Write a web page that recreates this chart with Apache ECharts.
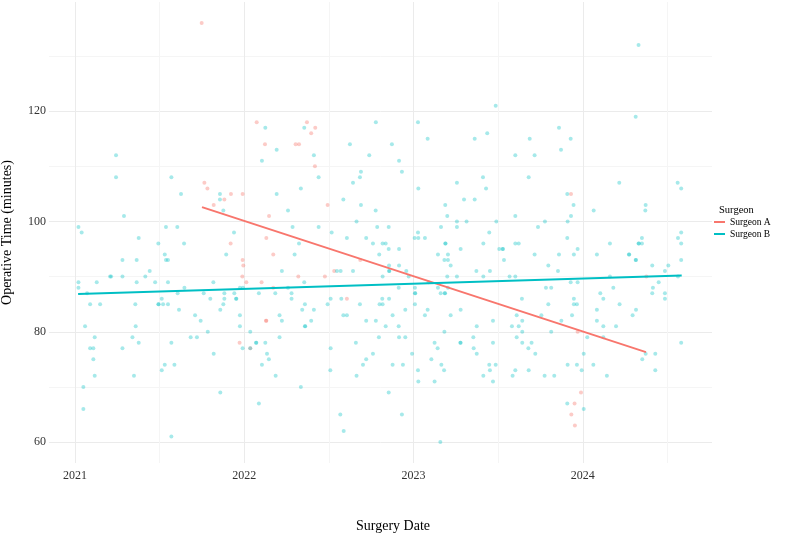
<!DOCTYPE html>
<html>
<head>
<meta charset="utf-8">
<title>Operative time by surgeon</title>
<script src="https://cdn.jsdelivr.net/npm/echarts@6/dist/echarts.min.js"></script>
<style>
  html, body { margin: 0; padding: 0; background: #fff; }
  #chart { width: 785px; height: 534px; }
</style>
</head>
<body>
<div id="chart"></div>
<script>
// surgery date as decimal year, operative time in minutes
const aX = [
  2021.748, 2021.764, 2021.782, 2021.819, 2022.073, 2022.122, 2022.303, 2022.323, 2022.37, 2022.419,
  2022.395, 2022.417, 2021.921, 2021.882, 2021.99, 2022.146, 2022.492, 2022.13, 2021.919, 2022.171,
  2021.99, 2021.994, 2022.685, 2022.531, 2021.988, 2022.319, 2022.476, 2022.012, 2022.102, 2022.171,
  2022.606, 2022.128, 2022.13, 2021.972, 2022.035, 2023.93, 2024.375, 2023.969, 2023.989, 2023.951,
  2023.932, 2023.953
]
const aY = [
  136, 107, 106, 103, 118, 114, 114, 114, 118, 117,
  116, 110, 105, 104, 105, 101, 103, 97, 96, 94,
  93, 92, 93, 91, 90, 90, 90, 89, 89, 88,
  86, 82, 82, 78, 77, 105, 90, 80, 69, 67,
  65, 63
]

const bX = [
  2021.242, 2021.242, 2021.289, 2021.02, 2021.039, 2021.569, 2021.626, 2021.537, 2021.604,
  2022.124, 2022.191, 2022.104, 2022.354, 2022.411, 2022.439, 2021.856, 2021.856, 2021.876, 2022.191,
  2022.334, 2022.258, 2021.939, 2022.285, 2022.439, 2022.516, 2022.585, 2022.624, 2022.738, 2022.777,
  2022.689, 2022.683, 2022.642, 2022.689, 2022.776, 2022.663, 2022.785,
  2022.853, 2022.872, 2022.914, 2022.931, 2023.026, 2023.083, 2023.028, 2023.026, 2023.256, 2023.187,
  2023.199, 2023.256, 2023.256, 2023.162, 2023.298, 2023.313, 2023.361, 2023.361, 2023.41, 2023.428,
  2023.435, 2023.485, 2023.489, 2023.447, 2023.601, 2023.601, 2023.686, 2023.715, 2023.68, 2023.735,
  2023.776,
  2023.859, 2023.928, 2023.871, 2024.329, 2024.312, 2024.215, 2024.56, 2024.581, 2023.908, 2023.945,
  2024.064, 2024.371, 2024.369, 2023.93, 2023.91, 2024.581,
  2021.376, 2021.492, 2021.644, 2021.53, 2021.537, 2021.549, 2021.28, 2021.364, 2021.441, 2021.207,
  2021.213, 2021.28, 2021.415, 2021.02, 2021.02, 2021.128, 2021.364, 2021.473, 2021.549, 2021.646,
  2021.817, 2021.071, 2021.606, 2021.76, 2021.512, 2021.799, 2021.089, 2021.148, 2021.356, 2021.492,
  2021.494, 2021.52, 2021.549, 2021.614, 2021.709, 2021.742, 2021.784, 2021.059, 2021.358, 2021.116,
  2021.339, 2021.683, 2021.72, 2021.089, 2021.108, 2021.28, 2021.376, 2021.569, 2021.108, 2021.819,
  2021.53, 2021.587, 2021.512, 2021.116, 2021.348, 2021.049, 2021.049, 2021.569,
  2022.606, 2022.72, 2022.323, 2022.76, 2022.817, 2021.893, 2022.297, 2022.797, 2022.222, 2022.547,
  2022.569, 2022.642, 2022.817, 2022.354, 2021.974, 2021.992, 2022.258, 2021.882, 2021.941, 2022.086,
  2022.183, 2022.279, 2021.882, 2021.951, 2021.953, 2022.279, 2022.51, 2022.573, 2022.815, 2021.876,
  2022.358, 2022.492, 2022.683, 2022.799, 2022.817, 2021.858, 2022.342, 2022.411, 2021.974, 2022.208,
  2022.585, 2022.606, 2022.222, 2022.395, 2022.72, 2022.777, 2021.974, 2022.358, 2022.36, 2022.035,
  2022.208, 2022.795, 2022.069, 2022.071, 2022.124, 2022.659, 2021.99, 2022.035, 2022.51, 2022.134,
  2022.76, 2022.145, 2022.72, 2022.104, 2022.701, 2022.508, 2022.185, 2022.663, 2022.334, 2021.858,
  2022.086, 2022.567, 2022.587,
  2022.835, 2023.006, 2023.028, 2023.067, 2022.853, 2022.914, 2023.187, 2023.189, 2023.412, 2023.278,
  2023.506, 2023.526, 2023.528, 2023.601, 2023.621, 2023.144, 2023.203, 2023.715, 2023.182, 2023.203,
  2023.534, 2023.219, 2022.855, 2022.914, 2023.796, 2022.855, 2022.857, 2022.957, 2023.371, 2023.451,
  2022.971, 2023.199, 2023.256, 2023.412, 2023.567, 2023.601, 2023.089, 2022.912, 2023.008, 2023.144,
  2023.203, 2023.782, 2023.813, 2023.008, 2023.01, 2023.16, 2023.184, 2023.186, 2022.855, 2023.64,
  2023.008, 2023.796, 2022.951, 2023.083, 2023.278, 2022.876, 2023.067, 2023.219, 2023.609, 2023.755,
  2023.469, 2023.642, 2022.835, 2022.912, 2023.373, 2023.581, 2023.621, 2023.182, 2023.642, 2023.813,
  2022.914, 2022.951, 2023.353, 2023.609, 2023.124, 2023.276, 2023.278, 2023.469, 2023.642, 2023.697,
  2023.142, 2023.355, 2023.678, 2022.991, 2023.373, 2023.719, 2023.105, 2022.876, 2022.937, 2023.164,
  2023.447, 2023.485, 2023.026, 2023.18, 2023.451, 2023.601, 2023.68, 2023.412, 2023.585, 2023.774,
  2023.831, 2023.028, 2023.124, 2023.469, 2022.853, 2022.931, 2023.158,
  2023.908, 2024.349, 2024.562, 2024.16, 2024.329, 2024.331, 2024.349, 2024.581, 2023.969, 2023.859,
  2023.947, 2024.083, 2024.272, 2024.274, 2024.312, 2024.314, 2024.581, 2024.41, 2024.505, 2023.853,
  2024.485, 2024.16, 2024.562, 2023.928, 2023.969, 2024.448, 2024.18, 2024.414, 2024.103, 2024.41,
  2024.485, 2023.947, 2024.121, 2024.485, 2023.947, 2023.965, 2024.217, 2024.083, 2024.314, 2023.936,
  2024.294, 2023.873, 2024.083, 2024.121, 2024.196, 2024.026, 2024.121, 2024.581, 2024.005, 2024.371,
  2024.428, 2024.351, 2023.91, 2023.965, 2024.062, 2023.993, 2024.428, 2024.142, 2023.908, 2024.005
]
const bY = [
  112, 108, 101, 99, 98, 108, 105, 99, 99,
  117, 113, 111, 117, 112, 108, 105, 104, 102, 105,
  106, 102, 98, 99, 99, 98, 104, 114, 112, 118,
  109, 108, 107, 103, 102, 100, 99,
  99, 114, 111, 109, 118, 115, 106, 98, 107, 103,
  101, 100, 99, 99, 104, 100, 115, 104, 108, 106,
  116, 121, 100, 98, 112, 101, 115, 112, 108, 99,
  100,
  117, 115, 113, 132, 119, 107, 107, 106, 105, 103,
  102, 103, 102, 101, 100, 98,
  97, 96, 96, 94, 93, 93, 93, 93, 91, 90,
  90, 90, 90, 89, 88, 89, 89, 89, 89, 88,
  89, 87, 87, 87, 86, 86, 85, 85, 85, 85,
  85, 85, 85, 84, 83, 82, 80, 81, 81, 79,
  79, 79, 79, 77, 77, 77, 78, 78, 75, 76,
  74, 74, 73, 72, 72, 70, 66, 61,
  97, 97, 96, 96, 96, 94, 94, 94, 91, 91,
  91, 91, 90, 89, 88, 88, 88, 87, 87, 87,
  87, 87, 86, 86, 86, 86, 86, 86, 86, 85,
  85, 85, 85, 85, 85, 84, 84, 84, 83, 83,
  83, 83, 82, 82, 82, 82, 81, 81, 81, 80,
  79, 79, 78, 78, 78, 78, 77, 77, 77, 76,
  76, 75, 75, 74, 74, 73, 72, 72, 70, 69,
  67, 65, 62,
  96, 97, 97, 97, 95, 95, 96, 96, 96, 95,
  95, 95, 95, 96, 96, 94, 94, 94, 93, 93,
  93, 92, 92, 92, 92, 91, 91, 91, 91, 91,
  90, 90, 90, 90, 90, 90, 89, 88, 88, 88,
  88, 88, 88, 87, 87, 87, 87, 87, 86, 86,
  85, 85, 84, 84, 84, 83, 83, 83, 83, 83,
  82, 82, 81, 81, 81, 81, 81, 80, 80, 80,
  79, 79, 79, 79, 78, 78, 78, 78, 78, 78,
  77, 77, 77, 76, 76, 76, 75, 74, 74, 74,
  74, 74, 73, 73, 73, 73, 73, 72, 72, 72,
  72, 71, 71, 71, 69, 65, 60,
  97, 97, 97, 96, 96, 96, 96, 96, 95, 94,
  94, 94, 94, 94, 93, 93, 93, 92, 92, 91,
  91, 90, 90, 89, 89, 89, 88, 88, 87, 87,
  87, 86, 86, 86, 85, 85, 85, 84, 84, 83,
  83, 82, 82, 81, 81, 79, 79, 78, 76, 76,
  76, 75, 74, 74, 74, 73, 73, 72, 67, 66
]

// fitted linear trend ends
const trendAX = [2021.75, 2024.373]
const trendAY = [102.6, 76.3]
const trendBX = [2021.018, 2024.584]
const trendBY = [86.85, 90.22]

const xMajor = [2021, 2022, 2023, 2024]
const xMinor = [2021.5, 2022.5, 2023.5, 2024.5]
const yMajor = [60, 80, 100, 120]
const yMinor = [70, 90, 110, 130]

const redCol = '#F8766D'
const tealCol = '#00BFC4'
const serif = 'Liberation Serif'

const pairs = (xs, ys) => xs.map((x, i) => [x, ys[i]])

const xRange = { min: 2020.846, max: 2024.763 }
const yRange = { min: 56.2, max: 139.8 }

const chart = echarts.init(document.getElementById('chart'))

const option = {
  animation: false,
  backgroundColor: '#fff',
  grid: { left: 49, right: 73, top: 2, bottom: 71, outerBoundsMode: 'none', containLabel: false },
  title: {
    text: 'Surgeon', left: 714, top: 200,
    textStyle: { fontFamily: serif, fontSize: 10.5, fontWeight: 'normal', color: '#000' }
  },
  legend: {
    orient: 'vertical', left: 709, top: 211,
    itemWidth: 11, itemHeight: 2, itemGap: 0,
    icon: 'rect',
    data: ['Surgeon A', 'Surgeon B'],
    textStyle: { fontFamily: serif, fontSize: 9.5, color: '#000', lineHeight: 12 }
  },
  xAxis: [
    {
      type: 'value', ...xRange,
      name: 'Surgery Date', nameLocation: 'middle', nameGap: 56,
      nameTextStyle: { fontFamily: serif, fontSize: 14, color: '#000', padding: [0, 0, 0, 25] },
      axisLine: { show: false },
      axisTick: { show: false, customValues: xMajor },
      axisLabel: {
        customValues: xMajor, margin: 7,
        fontFamily: serif, fontSize: 12, color: '#333',
        formatter: v => String(Math.round(v))
      },
      splitLine: { show: true, lineStyle: { color: '#EBEBEB', width: 1 } }
    },
    {
      type: 'value', ...xRange, position: 'top',
      axisLine: { show: false },
      axisTick: { show: false, customValues: xMinor },
      axisLabel: { show: false },
      splitLine: { show: true, lineStyle: { color: '#F5F5F5', width: 1 } }
    }
  ],
  yAxis: [
    {
      type: 'value', ...yRange,
      name: 'Operative Time (minutes)', nameLocation: 'middle', nameGap: 35,
      nameTextStyle: { fontFamily: serif, fontSize: 14, color: '#000' },
      axisLine: { show: false },
      axisTick: { show: false, customValues: yMajor },
      axisLabel: {
        customValues: yMajor, margin: 3,
        fontFamily: serif, fontSize: 12, color: '#333'
      },
      splitLine: { show: true, lineStyle: { color: '#EBEBEB', width: 1 } }
    },
    {
      type: 'value', ...yRange, position: 'right',
      axisLine: { show: false },
      axisTick: { show: false, customValues: yMinor },
      axisLabel: { show: false },
      splitLine: { show: true, lineStyle: { color: '#F5F5F5', width: 1 } }
    }
  ],
  series: [
    {
      name: 'A points', type: 'scatter', symbolSize: 4,
      itemStyle: { color: redCol, opacity: 0.38 },
      data: pairs(aX, aY), z: 2
    },
    {
      name: 'B points', type: 'scatter', symbolSize: 4,
      itemStyle: { color: tealCol, opacity: 0.35 },
      data: pairs(bX, bY), z: 2
    },
    {
      name: 'Surgeon A', type: 'line', showSymbol: false,
      lineStyle: { color: redCol, width: 2 }, itemStyle: { color: redCol },
      data: pairs(trendAX, trendAY), z: 5
    },
    {
      name: 'Surgeon B', type: 'line', showSymbol: false,
      lineStyle: { color: tealCol, width: 2 }, itemStyle: { color: tealCol },
      data: pairs(trendBX, trendBY), z: 5
    }
  ]
}

chart.setOption(option)
window.addEventListener('resize', () => chart.resize())
</script>
</body>
</html>
